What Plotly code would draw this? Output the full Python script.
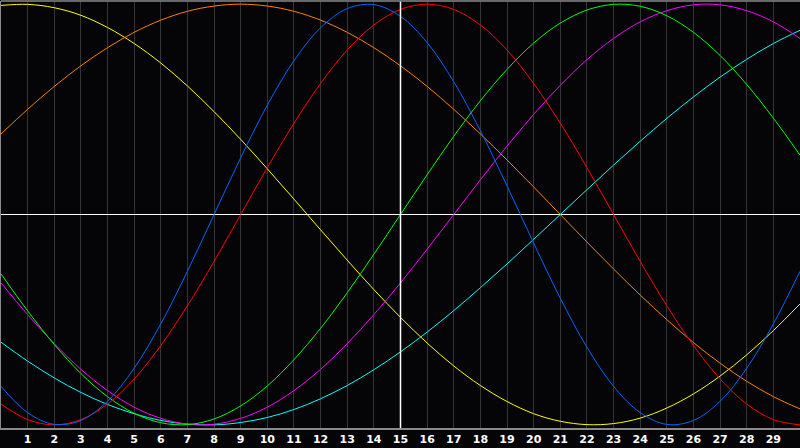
import plotly.graph_objects as go

# days shown along the bottom
days = list(range(0, 31))
tick_days = list(range(1, 30))

# curve values, one per day (day 0 .. day 30)
blue = [-0.817, -0.942, -0.998, -0.979, -0.888, -0.731, -0.520, -0.270, 0.0, 0.270,
        0.520, 0.731, 0.888, 0.979, 0.998, 0.942, 0.817, 0.631, 0.398, 0.136,
        -0.136, -0.398, -0.631, -0.817, -0.942, -0.998, -0.979, -0.888, -0.731, -0.520,
        -0.270]
red = [-0.901, -0.975, -1.0, -0.975, -0.901, -0.782, -0.623, -0.434, -0.223, 0.0,
       0.223, 0.434, 0.623, 0.782, 0.901, 0.975, 1.0, 0.975, 0.901, 0.782,
       0.623, 0.434, 0.223, 0.0, -0.223, -0.434, -0.623, -0.782, -0.901, -0.975,
       -1.0]
green = [-0.282, -0.458, -0.618, -0.756, -0.866, -0.945, -0.990, -0.999, -0.972, -0.910,
         -0.815, -0.690, -0.541, -0.372, -0.189, 0.0, 0.189, 0.372, 0.541, 0.690,
         0.815, 0.910, 0.972, 0.999, 0.990, 0.945, 0.866, 0.756, 0.618, 0.458,
         0.282]
magenta = [-0.325, -0.476, -0.614, -0.736, -0.837, -0.916, -0.969, -0.997, -0.997, -0.969,
           -0.916, -0.837, -0.736, -0.614, -0.476, -0.325, -0.165, 0.0, 0.165, 0.325,
           0.476, 0.614, 0.736, 0.837, 0.916, 0.969, 0.997, 0.997, 0.969, 0.916,
           0.837]
cyan = [-0.607, -0.697, -0.777, -0.846, -0.903, -0.947, -0.979, -0.996, -1.0, -0.989,
        -0.965, -0.927, -0.876, -0.813, -0.738, -0.653, -0.559, -0.457, -0.348, -0.235,
        -0.118, 0.0, 0.118, 0.235, 0.348, 0.457, 0.559, 0.653, 0.738, 0.813,
        0.876]
orange = [0.383, 0.5, 0.609, 0.707, 0.793, 0.866, 0.924, 0.966, 0.991, 1.0,
          0.991, 0.966, 0.924, 0.866, 0.793, 0.707, 0.609, 0.5, 0.383, 0.259,
          0.131, 0.0, -0.131, -0.259, -0.383, -0.5, -0.609, -0.707, -0.793, -0.866,
          -0.924]
yellow = [0.994, 0.999, 0.983, 0.947, 0.889, 0.813, 0.720, 0.611, 0.489, 0.357,
          0.217, 0.073, -0.073, -0.217, -0.357, -0.489, -0.611, -0.720, -0.813, -0.889,
          -0.947, -0.983, -0.999, -0.994, -0.968, -0.920, -0.853, -0.768, -0.667, -0.552,
          -0.425]

curves = [
    (yellow, "#ffff00"),
    (orange, "#ff8000"),
    (cyan, "#00ffff"),
    (magenta, "#ff00ff"),
    (green, "#00ff00"),
    (red, "#ff0000"),
    (blue, "#0066ff"),
]

fig = go.Figure()
for vals, col in curves:
    fig.add_trace(go.Scatter(
        x=days, y=vals, mode="lines",
        line=dict(color=col, width=1, shape="spline", smoothing=1),
        hoverinfo="skip", showlegend=False,
    ))

# white cross: today line and zero line
fig.add_shape(type="line", xref="x", yref="paper", x0=15, x1=15, y0=0, y1=1,
              line=dict(color="#ffffff", width=1.5), layer="above")
fig.add_shape(type="line", xref="paper", yref="paper", x0=0, x1=1, y0=1, y1=1,
              line=dict(color="#8a8a8a", width=1.5))

fig.update_layout(
    width=800, height=448,
    margin=dict(l=1, r=0, t=1, b=20),
    paper_bgcolor="#050508",
    plot_bgcolor="#050508",
)
fig.update_xaxes(
    range=[0, 30], tickvals=tick_days, ticktext=[str(d) for d in tick_days],
    showgrid=True, gridcolor="#353535", gridwidth=1,
    zeroline=False, showline=True, linecolor="#8a8a8a", linewidth=2,
    ticks="", tickfont=dict(family="DejaVu Sans", size=11, color="#ffffff", weight="bold"),
)
fig.update_yaxes(
    range=[-1.015, 1.015], showgrid=False, showticklabels=False,
    zeroline=True, zerolinecolor="#ffffff", zerolinewidth=1.5,
    showline=True, linecolor="#8a8a8a", linewidth=2,
)

# drop the browser's default 8px page margin so the chart fills the window
fig.write_html(
    "out.html",
    config={"displayModeBar": False, "staticPlot": True},
    post_script="document.body.style.margin='0';document.body.style.background='#050508';",
)
